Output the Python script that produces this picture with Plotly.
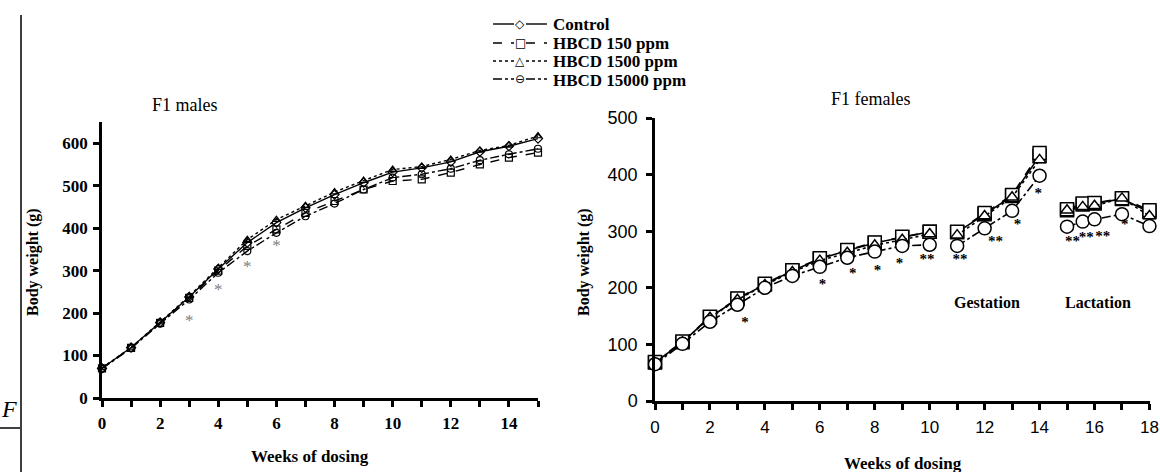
import plotly.graph_objects as go

# ---------------- data ----------------
male_weeks = list(range(0, 16))
male_control = [70, 119, 178, 238, 304, 366, 413, 448, 479, 507, 532, 542, 556, 580, 593, 611]
male_150 = [70, 118, 177, 236, 300, 358, 397, 436, 464, 491, 511, 515, 531, 550, 566, 578]
male_1500 = [71, 119, 179, 240, 307, 373, 420, 453, 485, 512, 538, 545, 562, 583, 595, 617]
male_15000 = [69, 117, 175, 232, 295, 346, 389, 428, 458, 491, 519, 527, 540, 560, 574, 587]
male_star_weeks = [3, 4, 5, 6]
male_star_y = [180, 252, 306, 357]

# female: growth weeks 0-10, gestation 11-14, lactation 15-18 (None separates phases)
fem_weeks = [0, 1, 2, 3, 4, 5, 6, 7, 8, 9, 10, None, 11, 12, 13, 14, None, 15, 15.57, 16, 17, 18]
fem_control = [68, 104, 148, 180, 206, 230, 251, 266, 279, 289, 299, None, 298, 330, 362, 433, None, 337, 347, 349, 357, 334]
fem_150 = [69, 105, 149, 181, 207, 231, 252, 267, 280, 290, 299, None, 299, 332, 364, 438, None, 339, 349, 350, 358, 337]
fem_1500 = [67, 104, 147, 179, 205, 228, 248, 262, 275, 285, 295, None, 293, 327, 360, 426, None, 337, 343, 345, 358, 327]
fem_15000 = [65, 101, 140, 170, 200, 221, 237, 253, 264, 274, 276, None, 274, 305, 336, 398, None, 308, 317, 321, 330, 309]
fem_star_weeks = [3.28, 6.1, 7.2, 8.1, 8.9, 9.9, 11.1, 12.4, 13.2, 13.95, 15.2, 15.7, 16.3, 17.1]
fem_star_text = ["*", "*", "*", "*", "*", "**", "**", "**", "*", "*", "**", "**", "**", "*"]
fem_star_y = [137, 205, 224, 230, 242, 248, 248, 280, 311, 366, 280, 287, 289, 311]

series_names = ["Control", "HBCD 150 ppm", "HBCD 1500 ppm", "HBCD 15000 ppm"]
legend_glyphs = ["◇", "□", "△", "⊖"]
male_x_ticks = list(range(0, 16))
fem_x_ticks = list(range(0, 19))

# ---------------- styling ----------------
W, H = 1160, 472
SERIF = "Liberation Serif, Times New Roman, serif"
SANS = "Liberation Sans, Arial, sans-serif"
dashes = ["solid", "dash", "dot", "dashdot"]
male_symbols = ["diamond-open", "square-open", "triangle-up-open", "circle-open"]
fem_symbols = ["square", "square", "triangle-up", "circle"]
fem_sizes = [13, 13, 11, 13]


def px(x):
    return x / W


def py(y):
    return 1 - y / H


fig = go.Figure()

male_series = [male_control, male_150, male_1500, male_15000]
for name, vals, dash, sym in zip(series_names, male_series, dashes, male_symbols):
    fig.add_trace(go.Scatter(
        x=male_weeks, y=vals, name=name, mode="lines+markers",
        line=dict(color="black", width=1.4, dash=dash),
        marker=dict(symbol=sym, size=7, color="black", line=dict(width=1.2, color="black")),
        xaxis="x", yaxis="y", cliponaxis=False, showlegend=False,
    ))

fig.add_trace(go.Scatter(
    x=male_star_weeks, y=male_star_y, mode="text", text=["*"] * len(male_star_weeks),
    textfont=dict(family=SERIF, size=17, color="#808080"), xaxis="x", yaxis="y",
    showlegend=False, hoverinfo="skip", cliponaxis=False,
))

fem_series = [fem_control, fem_150, fem_1500, fem_15000]
for name, vals, dash, sym, sz in zip(series_names, fem_series, dashes, fem_symbols, fem_sizes):
    fig.add_trace(go.Scatter(
        x=fem_weeks, y=vals, name=name, mode="lines+markers",
        line=dict(color="black", width=1.6, dash=dash),
        marker=dict(symbol=sym, size=sz, color="white", line=dict(width=1.5, color="black")),
        xaxis="x2", yaxis="y2", cliponaxis=False, showlegend=False, connectgaps=False,
    ))

fig.add_trace(go.Scatter(
    x=fem_star_weeks, y=fem_star_y, mode="text", text=fem_star_text,
    textfont=dict(family=SERIF, size=15, color="black", weight="bold"), xaxis="x2", yaxis="y2",
    showlegend=False, hoverinfo="skip", cliponaxis=False,
))

axis_common = dict(showgrid=False, zeroline=False, showline=True, linecolor="black",
                   linewidth=2.5, ticks="outside", tickcolor="black", tickwidth=2.5,
                   ticklen=6, fixedrange=True, automargin=False)

fig.update_layout(
    width=W, height=H,
    margin=dict(l=0, r=0, t=0, b=0, autoexpand=False),
    paper_bgcolor="white", plot_bgcolor="rgba(0,0,0,0)",
    showlegend=False,
    xaxis=dict(domain=[px(102), px(538)], range=[0, 15], anchor="y",
               tickvals=male_x_ticks,
               ticktext=[str(v) if v % 2 == 0 and v <= 14 else "" for v in male_x_ticks],
               tickfont=dict(family=SERIF, size=17, color="black", weight="bold"),
               ticklabelstandoff=2, **axis_common),
    yaxis=dict(domain=[py(398), py(122)], range=[0, 650], anchor="x",
               tickvals=[0, 100, 200, 300, 400, 500, 600],
               tickfont=dict(family=SERIF, size=17, color="black", weight="bold"),
               ticklabelstandoff=2, **axis_common),
    xaxis2=dict(domain=[px(655), px(1150)], range=[0, 18.02], anchor="y2",
                tickvals=fem_x_ticks,
                ticktext=[str(v) if v % 2 == 0 else "" for v in fem_x_ticks],
                tickfont=dict(family=SANS, size=17, color="black"),
                ticklabelstandoff=3, **axis_common),
    yaxis2=dict(domain=[py(401), py(118)], range=[0, 500], anchor="x2",
                tickvals=[0, 100, 200, 300, 400, 500],
                tickfont=dict(family=SANS, size=18, color="black"),
                ticklabelstandoff=5, **axis_common),
)

annotations = [
    dict(text="F1 males", x=px(185), y=py(105), font=dict(family=SERIF, size=18)),
    dict(text="F1 females", x=px(870), y=py(99), font=dict(family=SERIF, size=18)),
    dict(text="<b>Weeks of dosing</b>", x=px(310), y=py(456), font=dict(family=SERIF, size=17)),
    dict(text="<b>Weeks of dosing</b>", x=px(903), y=py(463), font=dict(family=SERIF, size=17)),
    dict(text="<b>Body weight (g)</b>", x=px(33), y=py(262), textangle=-90, font=dict(family=SERIF, size=16)),
    dict(text="<b>Body weight (g)</b>", x=px(584), y=py(262), textangle=-90, font=dict(family=SERIF, size=16)),
    dict(text="<b>Gestation</b>", x=px(987), y=py(302), font=dict(family=SERIF, size=16)),
    dict(text="<b>Lactation</b>", x=px(1098), y=py(302), font=dict(family=SERIF, size=16)),
    dict(text="<i>F</i>", x=px(9), y=py(409), font=dict(family=SERIF, size=24)),
]

# manual legend (line sample + symbol + bold label)
legend_rows_y = [24, 43, 61, 79]
for name, dash, glyph, ly in zip(series_names, dashes, legend_glyphs, legend_rows_y):
    fig.add_shape(type="line", xref="paper", yref="paper", x0=px(493), x1=px(514),
                  y0=py(ly), y1=py(ly), line=dict(color="black", width=1.4, dash=dash))
    fig.add_shape(type="line", xref="paper", yref="paper", x0=px(526), x1=px(547),
                  y0=py(ly), y1=py(ly), line=dict(color="black", width=1.4, dash=dash))
    annotations.append(dict(text=glyph, x=px(520), y=py(ly), font=dict(family="DejaVu Sans", size=12)))
    annotations.append(dict(text="<b>" + name + "</b>", x=px(551), y=py(ly + 1), xanchor="left",
                            font=dict(family=SERIF, size=17)))

for a in annotations:
    a.setdefault("xanchor", "center")
    a.update(xref="paper", yref="paper", showarrow=False, yanchor="middle")
    a["font"]["color"] = "black"
fig.update_layout(annotations=annotations)

fig.add_shape(type="line", xref="paper", yref="paper", x0=px(21), x1=px(21), y0=py(15), y1=py(472),
              line=dict(color="black", width=1.5))
fig.add_shape(type="line", xref="paper", yref="paper", x0=px(0), x1=px(20), y0=py(428), y1=py(428),
              line=dict(color="black", width=1.5))

fig.write_html("out.html", config={"displayModeBar": False})

# remove the default page margin so the figure sits at the window origin
with open("out.html", "r", encoding="utf-8") as f:
    html = f.read()
html = html.replace("<head>", "<head><style>html,body{margin:0;padding:0;overflow:hidden;}</style>", 1)
with open("out.html", "w", encoding="utf-8") as f:
    f.write(html)
